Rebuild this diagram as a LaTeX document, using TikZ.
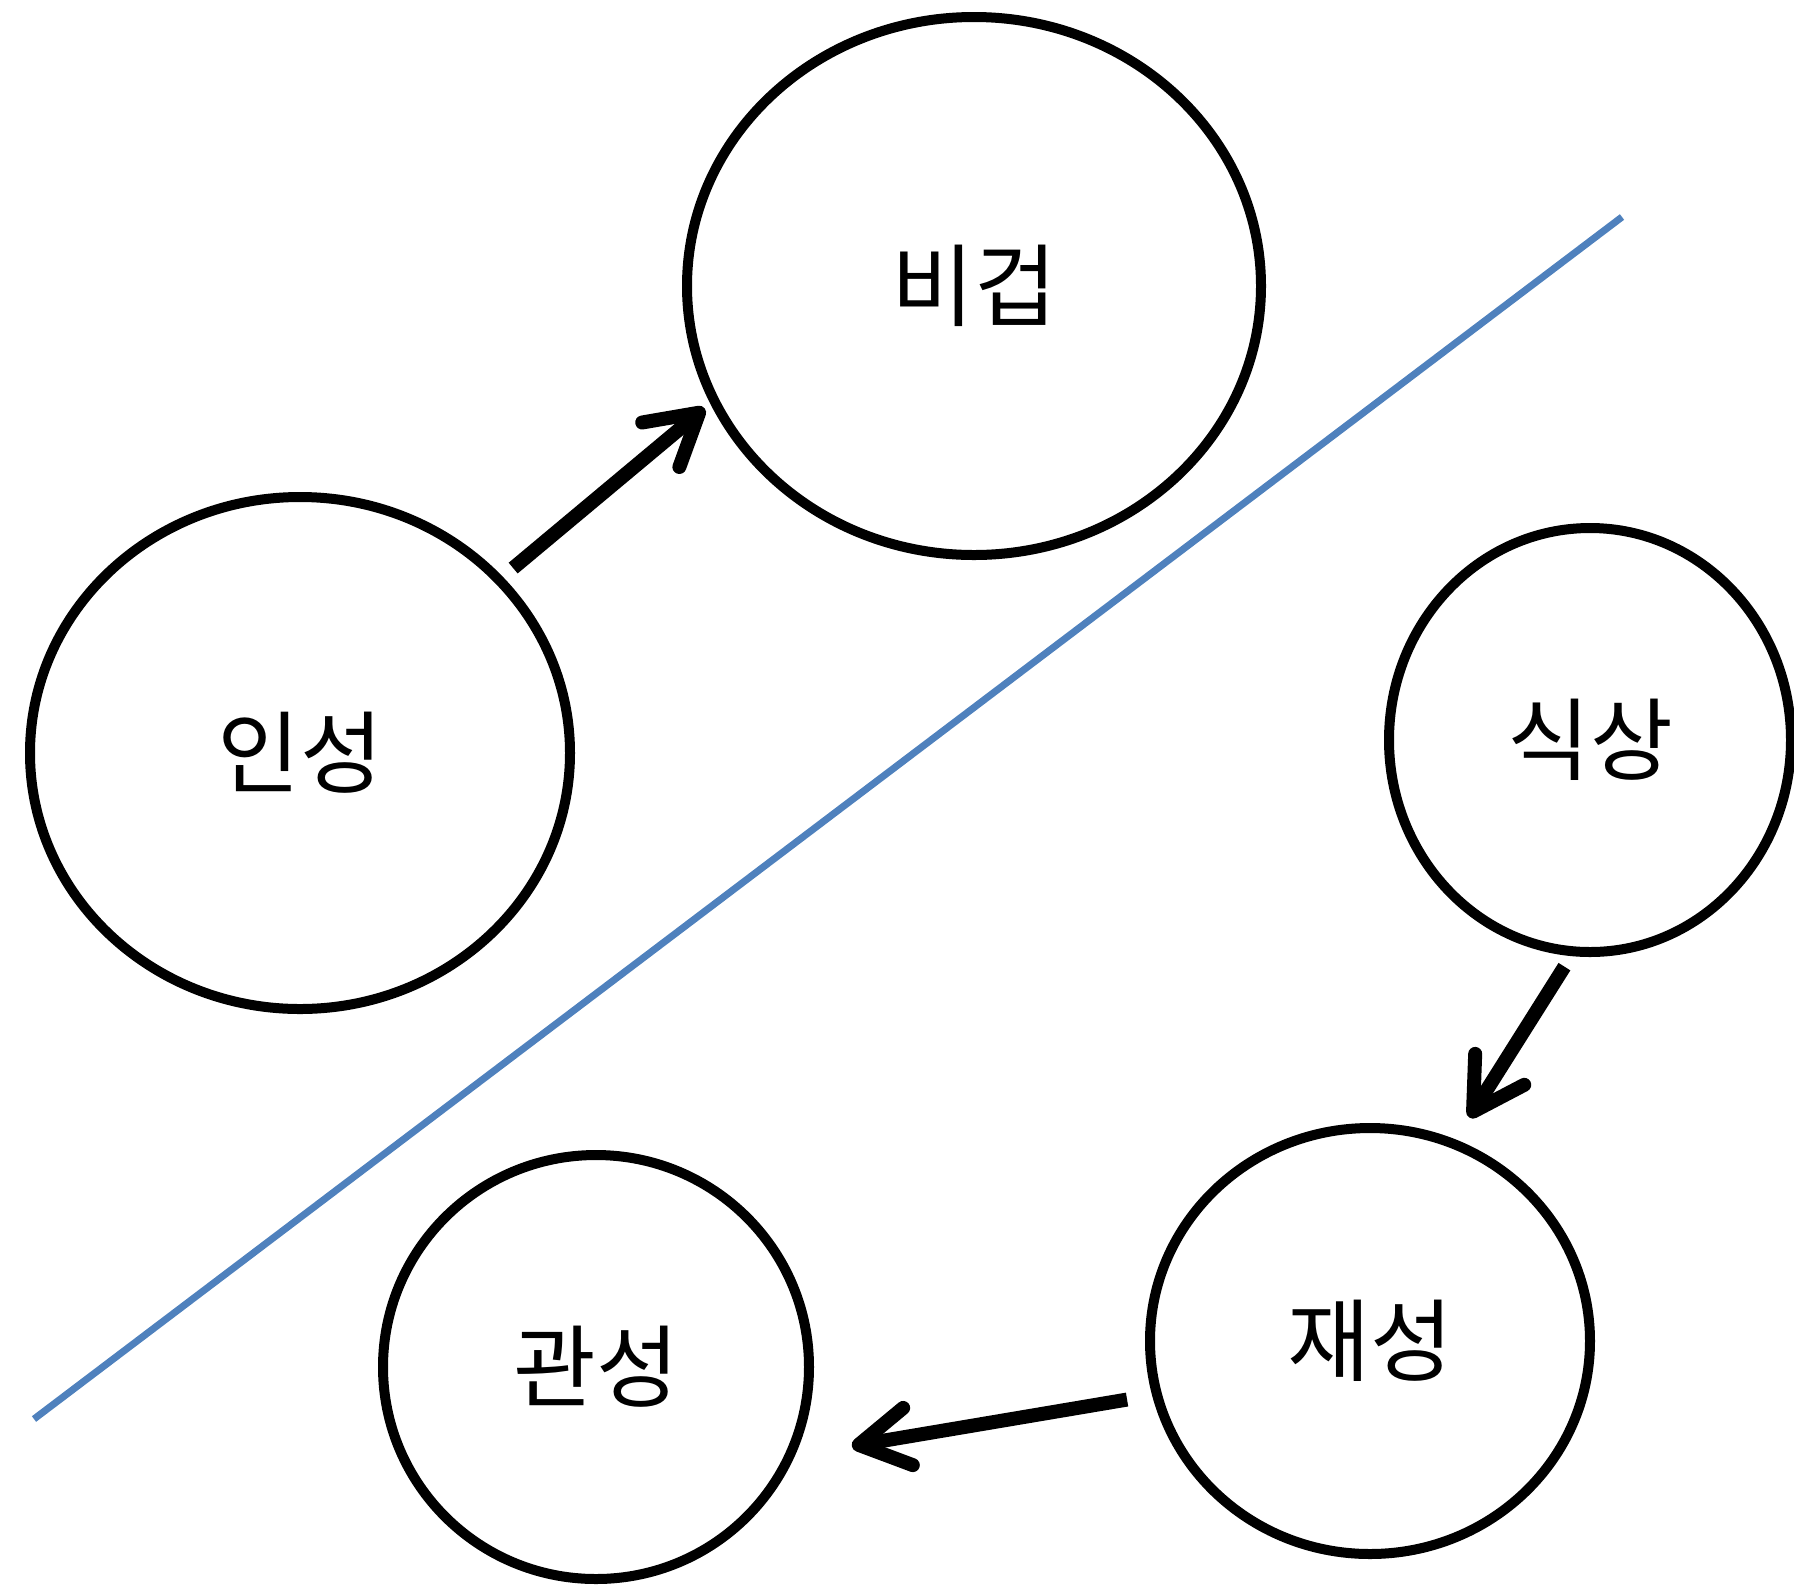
\documentclass[tikz,border=0pt]{standalone}
\usepackage{fontspec}
\newfontfamily\kr{Noto Sans CJK KR}
\usetikzlibrary{shapes.geometric,arrows.meta}
\definecolor{lineblue}{RGB}{79,129,189}
\begin{document}
\begin{tikzpicture}[x=0.5pt,y=-0.5pt,
  bubble/.style={draw=black,line width=5pt,ellipse,inner sep=0pt,font=\kr\fontsize{45pt}{45pt}\selectfont},
  flow/.style={line width=7pt,-{Straight Barb[length=25pt,width=29pt,round]}}]
\useasboundingbox (0,0) rectangle (1794,1586);
\node[bubble,minimum width=287pt,minimum height=269pt] (bigeop) at (974,286) {비겁};
\node[bubble,minimum width=270pt,minimum height=256pt] (inseong) at (300,753) {인성};
\node[bubble,minimum width=201pt,minimum height=212pt] (siksang) at (1590,740) {식상};
\node[bubble,minimum width=220pt,minimum height=213pt] (jaeseong) at (1370,1341) {재성};
\node[bubble,minimum width=213pt,minimum height=212pt] (gwanseong) at (596,1367) {관성};
\coordinate (lineA) at (34,1419);
\coordinate (lineB) at (1622,217);
\draw[lineblue,line width=3.5pt] (lineA) -- (lineB);
\draw[flow,shorten <=6.75pt,shorten >=3.7pt] (inseong.41.5) -- (bigeop.204.45);
\draw[flow,shorten <=6.25pt,shorten >=12.9pt] (siksang.265.9) -- (jaeseong.67.1);
\draw[flow,shorten <=12.7pt,shorten >=28.8pt] (jaeseong.194.5) -- (gwanseong.336.4);
\end{tikzpicture}
\end{document}
